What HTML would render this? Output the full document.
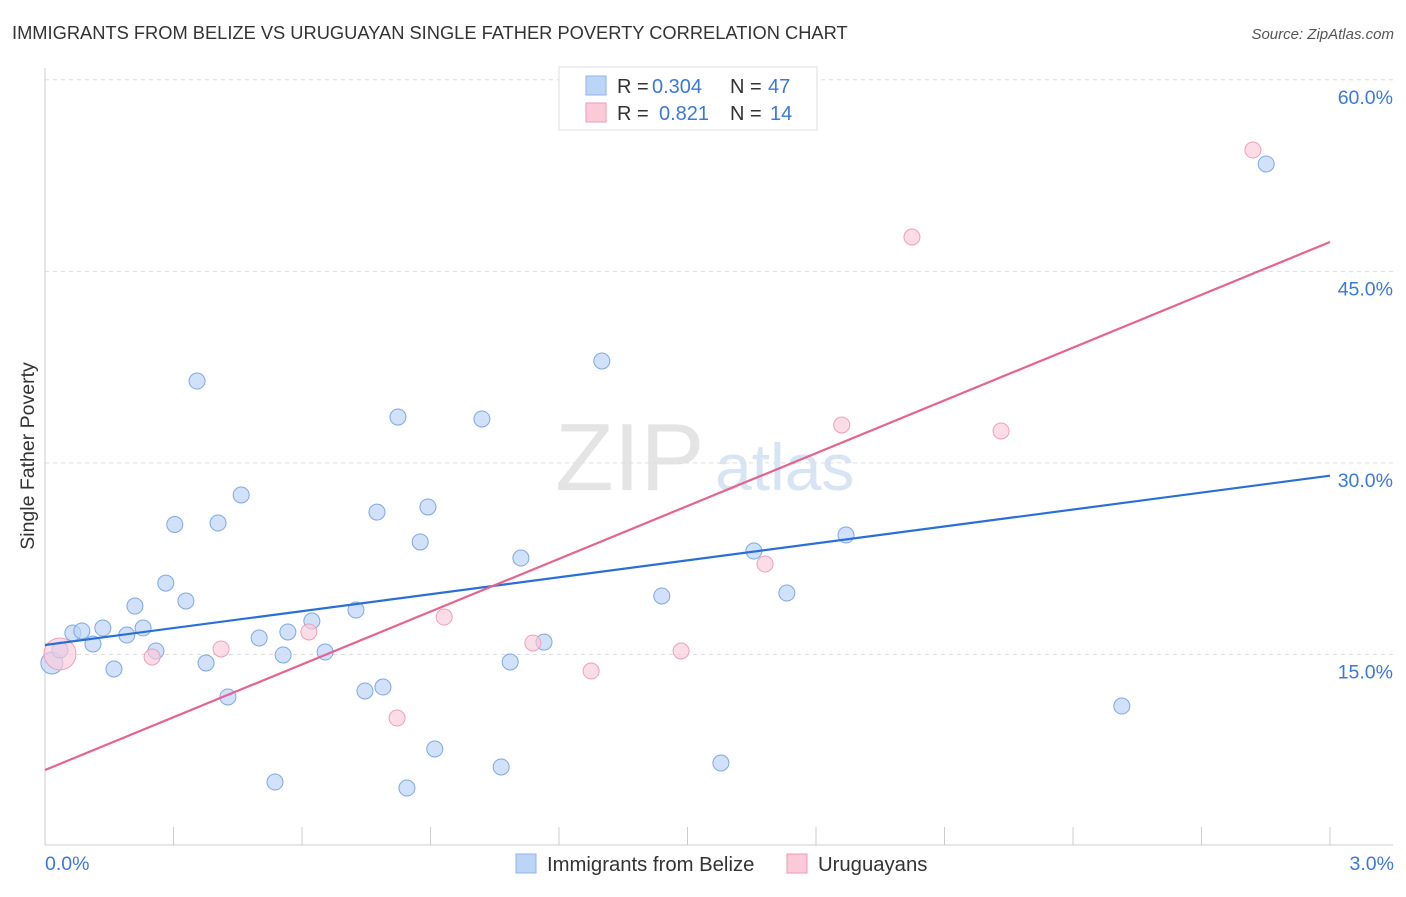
<!DOCTYPE html>
<html><head><meta charset="utf-8"><style>
body{margin:0;background:#fff;font-family:"Liberation Sans",sans-serif;}
svg text{font-family:"Liberation Sans",sans-serif;}
</style></head><body>
<svg id="chart" width="1406" height="892">
<text x="12" y="39" font-size="18.3" fill="#333">IMMIGRANTS FROM BELIZE VS URUGUAYAN SINGLE FATHER POVERTY CORRELATION CHART</text>
<text x="1394" y="39" font-size="15" fill="#555" text-anchor="end" font-style="italic">Source: ZipAtlas.com</text>
<text x="555" y="490" font-size="96" fill="#e4e4e4" font-family="Liberation Serif">ZIP</text>
<text x="715" y="490" font-size="66" fill="#d6e4f4">atlas</text>
<g id="grid"></g>
<g id="marks"></g>
<text transform="translate(34,456) rotate(-90)" font-size="19.5" fill="#333" text-anchor="middle">Single Father Poverty</text>
<text x="45" y="870" font-size="19.5" fill="#3b78d8">0.0%</text>
<text x="1394" y="870" font-size="19.5" fill="#3b78d8" text-anchor="end">3.0%</text>
<g>
<rect x="559" y="67" width="258" height="63" fill="#fff" stroke="#ddd"/>
<rect x="586" y="76" width="20" height="19" fill="#bcd4f6" stroke="#8fb3e8"/>
<rect x="586" y="103" width="20" height="19" fill="#fbcad8" stroke="#ee9ab4"/>
<text x="617" y="93" font-size="20" fill="#333">R =</text>
<text x="652" y="93" font-size="20" fill="#3b78d8">0.304</text>
<text x="730" y="93" font-size="20" fill="#333">N =</text>
<text x="768" y="93" font-size="20" fill="#3b78d8">47</text>
<text x="617" y="120" font-size="20" fill="#333">R =</text>
<text x="659" y="120" font-size="20" fill="#3b78d8">0.821</text>
<text x="730" y="120" font-size="20" fill="#333">N =</text>
<text x="770" y="120" font-size="20" fill="#3b78d8">14</text>
</g>
<g>
<rect x="516" y="854" width="20" height="19" fill="#bcd4f6" stroke="#8fb3e8"/>
<text x="547" y="871" font-size="20.3" fill="#333">Immigrants from Belize</text>
<rect x="787" y="854" width="20" height="19" fill="#fbcad8" stroke="#ee9ab4"/>
<text x="818" y="871" font-size="20.3" fill="#333">Uruguayans</text>
</g>
</svg>
<script>
const yTicks=[15,30,45,60];
const yTickLabels=["15.0%","30.0%","45.0%","60.0%"];
const blueX=[.016,.035,.065,.086,.112,.135,.161,.191,.210,.229,.259,.282,.303,.329,.355,.376,.404,.427,.458,.500,.537,.556,.567,.623,.654,.726,.747,.775,.789,.824,.845,.876,.894,.910,1.020,1.065,1.086,1.111,1.165,1.300,1.440,1.578,1.655,1.732,1.870,2.514,2.851];
const blueY=[14.33,15.35,16.68,16.84,15.82,17.07,13.86,16.52,18.79,17.07,15.27,20.59,25.18,19.19,36.41,14.33,25.29,11.67,27.49,16.29,5.01,14.96,16.76,17.62,15.19,18.48,12.14,26.15,12.45,33.59,4.54,23.81,26.55,7.60,33.44,6.19,14.41,22.55,15.97,37.98,19.58,6.50,23.10,19.81,24.35,10.96,53.41];
const pinkX=[.035,.250,.411,.616,.822,.932,1.139,1.275,1.485,1.681,1.860,2.024,2.232,2.820];
const pinkY=[15.04,14.80,15.43,16.76,10.02,17.93,15.90,13.70,15.27,22.08,32.97,47.69,32.50,54.50];
const blueTrend=[15.74,29.0];
const pinkTrend=[5.95,47.3];
const NS="http://www.w3.org/2000/svg";
const X=v=>45+v/3*1285;
const Y=v=>846-v*12.77;
function mk(tag,attrs,parent){const e=document.createElementNS(NS,tag);for(const k in attrs)e.setAttribute(k,attrs[k]);parent.appendChild(e);return e;}
const grid=document.getElementById('grid'),marks=document.getElementById('marks');
yTicks.forEach((t,i)=>{
 const l=mk('line',{x1:45,x2:1393,y1:Y(t),y2:Y(t),stroke:'#ddd','stroke-dasharray':'4,4'},grid);
 
 
 const tx=mk('text',{x:1393,y:Y(t)+24,'font-size':19.5,fill:'#3b78d8','text-anchor':'end'},grid);
 tx.textContent=yTickLabels[i];
 
 
});
const ax=mk('line',{x1:45,x2:1393,y1:845,y2:845,stroke:'#ccc'},grid);


const ay=mk('line',{x1:45,x2:45,y1:68,y2:845,stroke:'#ccc'},grid);


for(let i=0;i<=10;i++){
 const t=mk('line',{x1:X(i*0.3),x2:X(i*0.3),y1:827,y2:845,stroke:'#ccc'},grid);
 
 
}
blueX.forEach((x,i)=>{
 const c=mk('circle',{cx:X(x),cy:Y(blueY[i]),r:i==0?11:8,fill:'#bcd4f6','fill-opacity':0.7,stroke:'#7fa8e0','stroke-width':1},marks);
 
 
});
pinkX.forEach((x,i)=>{
 const c=mk('circle',{cx:X(x),cy:Y(pinkY[i]),r:i==0?16:8,fill:'#fbcad8','fill-opacity':0.65,stroke:'#eea0b8','stroke-width':1},marks);
 
 
});
const bl=mk('line',{x1:X(0),y1:Y(blueTrend[0]),x2:X(3),y2:Y(blueTrend[1]),stroke:'#2a6fd6','stroke-width':2.2},marks);


const pl=mk('line',{x1:X(0),y1:Y(pinkTrend[0]),x2:X(3),y2:Y(pinkTrend[1]),stroke:'#e4638f','stroke-width':2.2},marks);


</script>
</body></html>
